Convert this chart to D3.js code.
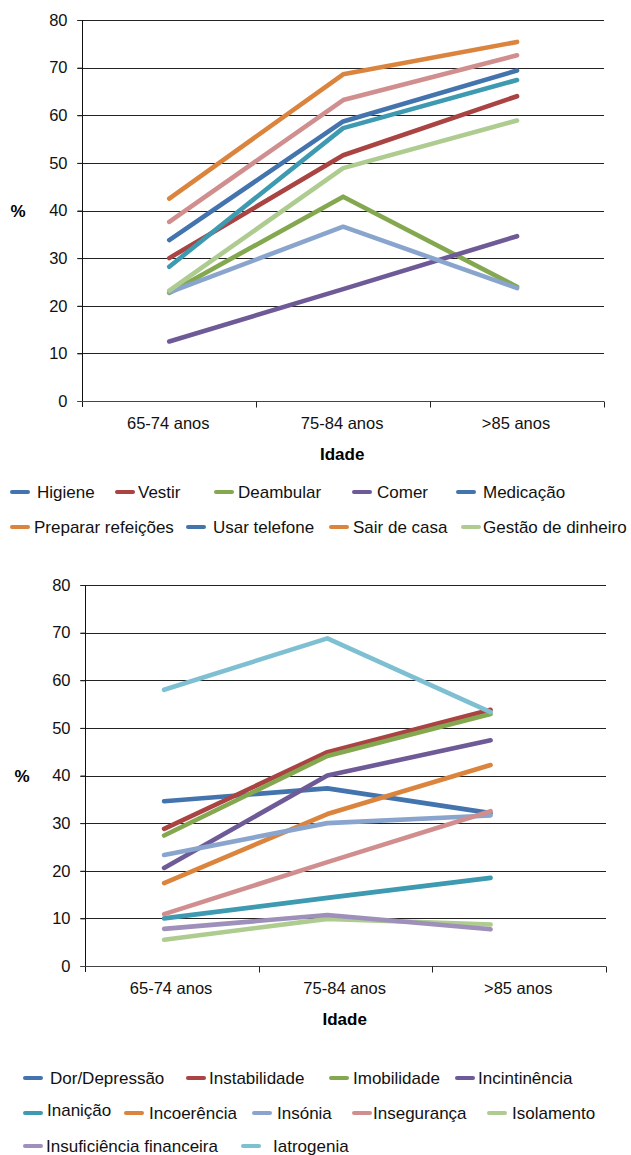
<!DOCTYPE html>
<html>
<head>
<meta charset="utf-8">
<script src="https://cdn.jsdelivr.net/npm/d3@7/dist/d3.min.js"></script>
<style>
  html, body { margin: 0; padding: 0; background: #fff; }
  svg { display: block; font-family: "Liberation Sans", Arial, Helvetica, sans-serif; }
</style>
</head>
<body>
<svg id="chart" width="631" height="1155"></svg>
<script>
// ---- data ----
const ages = ["65-74 anos", "75-84 anos", ">85 anos"];
const yTicks = [0, 10, 20, 30, 40, 50, 60, 70, 80];

// Chart 1: dependência nas actividades
const adlNames = ["Higiene", "Vestir", "Deambular", "Comer", "Medicação",
  "Preparar refeições", "Usar telefone", "Sair de casa", "Gestão de dinheiro"];
const higiene = [33.8, 58.7, 69.4];
const vestir = [30.0, 51.6, 64.0];
const deambular = [22.7, 42.9, 24.0];
const comer = [12.5, 23.5, 34.6];
const medicacao = [28.2, 57.3, 67.4];
const prepararRefeicoes = [42.5, 68.6, 75.4];
const usarTelefone = [22.8, 36.6, 23.7];
const sairDeCasa = [37.6, 63.2, 72.6];
const gestaoDinheiro = [23.2, 48.9, 58.9];
const adlValues = [higiene, vestir, deambular, comer, medicacao,
  prepararRefeicoes, usarTelefone, sairDeCasa, gestaoDinheiro];

// Chart 2: problemas identificados
const probNames = ["Dor/Depressão", "Instabilidade", "Imobilidade", "Incintinência",
  "Inanição", "Incoerência", "Insónia", "Insegurança", "Isolamento",
  "Insuficiência financeira", "Iatrogenia"];
const dorDepressao = [34.6, 37.3, 32.1];
const instabilidade = [28.8, 44.9, 53.8];
const imobilidade = [27.4, 44.1, 52.9];
const incintinencia = [20.6, 40.0, 47.4];
const inanicao = [10.0, 14.3, 18.5];
const incoerencia = [17.4, 31.9, 42.2];
const insonia = [23.3, 30.0, 31.6];
const inseguranca = [10.9, 21.8, 32.5];
const isolamento = [5.5, 9.9, 8.7];
const insufFinanceira = [7.8, 10.7, 7.7];
const iatrogenia = [58.0, 68.8, 53.3];
const probValues = [dorDepressao, instabilidade, imobilidade, incintinencia,
  inanicao, incoerencia, insonia, inseguranca, isolamento, insufFinanceira, iatrogenia];

// ---- palette ----
const C = {
  blue: "#4374AE", red: "#A94442", green: "#84A84F", purple: "#6E5A96",
  teal: "#3E9AB0", orange: "#DB843D", lightBlue: "#89A5CE", pink: "#D18E8E",
  lightGreen: "#AECB90", lavender: "#9E90BA", aqua: "#7EC0D2"
};
const seriesColors = [C.blue, C.red, C.green, C.purple, C.teal, C.orange,
  C.lightBlue, C.pink, C.lightGreen, C.lavender, C.aqua];
// swatches as shown in the first legend
const adlLegendColors = [C.blue, C.red, C.green, C.purple, C.blue, C.orange,
  C.blue, C.orange, C.lightGreen];

const svg = d3.select("#chart");

function drawChart(cfg) {
  const g = svg.append("g");
  const x = d3.scaleBand().domain(ages).range([cfg.left, cfg.right]).paddingInner(0).paddingOuter(0);
  const bw = x.bandwidth();
  const xLine = d3.scalePoint().domain(ages)
    .range([cfg.left + cfg.pointFrac[0] * bw, cfg.left + cfg.pointFrac[1] * bw]);
  const y = d3.scaleLinear().domain([0, 80]).range([cfg.bottom, cfg.top]);

  // horizontal gridlines
  g.append("g").selectAll("line").data(yTicks.filter(d => d > 0)).join("line")
    .attr("x1", cfg.left - 5).attr("x2", cfg.right)
    .attr("y1", d => Math.round(y(d)) + 0.5).attr("y2", d => Math.round(y(d)) + 0.5)
    .attr("stroke", "#222").attr("stroke-width", 1);

  // y axis
  const yAxis = d3.axisLeft(y).tickValues(yTicks).tickSize(5).tickPadding(10);
  const ya = g.append("g").attr("transform", `translate(${Math.round(cfg.left) + 0.5},0)`).call(yAxis);
  ya.select(".domain").remove();
  ya.selectAll(".tick line").attr("stroke", "#222");
  ya.selectAll(".tick text").attr("font-size", 16.5).attr("fill", "#111")
    .attr("font-family", "Liberation Sans, Arial, sans-serif");
  g.append("line")
    .attr("x1", Math.round(cfg.left) + 0.5).attr("x2", Math.round(cfg.left) + 0.5)
    .attr("y1", cfg.top).attr("y2", cfg.bottom + 6)
    .attr("stroke", "#111");

  // x axis
  const xb = Math.round(cfg.bottom) + 0.5;
  g.append("line").attr("x1", cfg.left - 5).attr("x2", cfg.right)
    .attr("y1", xb).attr("y2", xb).attr("stroke", "#444").attr("stroke-width", 1.2);
  const bounds = ages.map(a => x(a)).concat([cfg.right]);
  g.append("g").selectAll("line").data(bounds.slice(1)).join("line")
    .attr("x1", d => Math.round(d) + 0.5).attr("x2", d => Math.round(d) + 0.5)
    .attr("y1", xb).attr("y2", xb + 6).attr("stroke", "#222");
  g.append("g").selectAll("text").data(ages).join("text")
    .attr("x", d => x(d) + bw / 2 - 1).attr("y", cfg.bottom + 28)
    .attr("text-anchor", "middle").attr("font-size", 16.5).attr("fill", "#111")
    .text(d => d);

  // axis titles
  g.append("text").attr("x", cfg.pctX).attr("y", y(40) + 6)
    .attr("text-anchor", "middle").attr("font-size", 17).attr("font-weight", "bold")
    .text("%");
  g.append("text").attr("x", (cfg.left + cfg.right) / 2 - 1).attr("y", cfg.bottom + 59)
    .attr("text-anchor", "middle").attr("font-size", 17).attr("font-weight", "bold")
    .text("Idade");

  // series lines
  const line = d3.line().x((d, i) => xLine(ages[i])).y(d => y(d));
  g.append("g").selectAll("path").data(cfg.values).join("path")
    .attr("d", d => line(d))
    .attr("fill", "none")
    .attr("stroke", (d, i) => seriesColors[i])
    .attr("stroke-width", 4.6)
    .attr("stroke-linecap", "round")
    .attr("stroke-linejoin", "round");

  // legend
  const lg = g.append("g");
  cfg.legendLayout.forEach((row, r) => {
    row.forEach(([idx, sx, tx, dy]) => {
      const cy = cfg.legendRows[r];
      lg.append("line").attr("x1", sx).attr("x2", sx + 16)
        .attr("y1", cy).attr("y2", cy)
        .attr("stroke", cfg.legendColors[idx]).attr("stroke-width", 4)
        .attr("stroke-linecap", "round");
      lg.append("text").attr("x", tx).attr("y", cy + 6 + (dy || 0))
        .attr("font-size", 17).attr("fill", "#111")
        .text(cfg.names[idx]);
    });
  });
}

drawChart({
  left: 82.3, right: 604, top: 20, bottom: 401,
  pointFrac: [0.5, 2.5],
  pctX: 18,
  values: adlValues, names: adlNames, legendColors: adlLegendColors,
  legendRows: [492, 527],
  legendLayout: [
    [[0, 12, 37], [1, 117, 138], [2, 216, 238], [3, 354, 377], [4, 458, 483]],
    [[5, 12, 34], [6, 188, 213], [7, 331, 353], [8, 463, 483]]
  ]
});

drawChart({
  left: 85.3, right: 606, top: 585, bottom: 966,
  pointFrac: [0.454, 2.335],
  pctX: 22,
  values: probValues, names: probNames, legendColors: seriesColors,
  legendRows: [1078, 1113, 1146],
  legendLayout: [
    [[0, 25, 50], [1, 188, 209], [2, 331, 353], [3, 457, 478]],
    [[4, 25, 47, -3], [5, 126, 149], [6, 254, 277], [7, 354, 373], [8, 489, 512]],
    [[9, 25, 46], [10, 243, 273]]
  ]
});
</script>
</body>
</html>
